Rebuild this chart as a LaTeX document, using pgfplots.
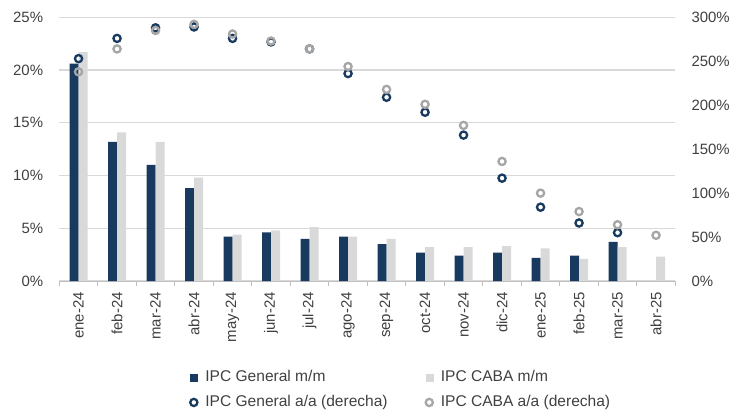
\documentclass[border=0pt]{standalone}
\usepackage{pgfplots}
\pgfplotsset{compat=1.18}
\usepackage{fontspec}
\setmainfont{Liberation Sans}
\definecolor{navy}{HTML}{173A5E}
\definecolor{lgray}{HTML}{D9D9D9}
\definecolor{cgray}{HTML}{A6A6A6}
\definecolor{txt}{HTML}{404040}
\definecolor{gridc}{HTML}{D9D9D9}
\definecolor{axc}{HTML}{BFBFBF}
\begin{document}
\begin{tikzpicture}[font=\fontsize{15}{17}\selectfont, every node/.append style={text=txt}]
\path[use as bounding box] (-59.3bp,-131bp) rectangle (676.7bp,281bp);
\begin{axis}[
  at={(0,0)}, anchor=south west,
  scale only axis, width=616bp, height=263.7bp,
  xmin=-0.5, xmax=15.5, ymin=0, ymax=25,
  axis x line*=bottom, axis y line*=left,
  y axis line style={draw=none},
  x axis line style={axc, line width=1bp},
  xtick={0,...,15},
  xticklabels={ene-24,feb-24,mar-24,abr-24,may-24,jun-24,jul-24,ago-24,sep-24,oct-24,nov-24,dic-24,ene-25,feb-25,mar-25,abr-25},
  minor xtick={-0.5,0.5,...,15.5},
  major tick length=0pt, minor tick length=5bp, tick align=outside,
  minor x tick style={axc, line width=0.8bp},
  xticklabel style={yshift=-11bp, rotate=90, anchor=east, inner sep=0pt},
  ytick={0,5,...,25},
  yticklabel={\pgfmathprintnumber{\tick}\%},
  yticklabel style={anchor=east, inner sep=0pt, xshift=-16bp},
  ymajorgrids, grid style={gridc, line width=1.2bp},
  /pgf/number format/assume math mode=true,
  clip=false,
]
\addplot[ybar, bar width=9bp, bar shift=-4.5bp, fill=navy, draw=none] coordinates {
(0,20.6) (1,13.2) (2,11.0) (3,8.8) (4,4.2) (5,4.6) (6,4.0) (7,4.2) (8,3.5) (9,2.7) (10,2.4) (11,2.7) (12,2.2) (13,2.4) (14,3.7)};
\addplot[ybar, bar width=9bp, bar shift=4.5bp, fill=lgray, draw=none] coordinates {
(0,21.7) (1,14.1) (2,13.2) (3,9.8) (4,4.4) (5,4.8) (6,5.1) (7,4.2) (8,4.0) (9,3.2) (10,3.2) (11,3.3) (12,3.1) (13,2.1) (14,3.2) (15,2.3)};
\end{axis}
\begin{axis}[
  at={(0,0)}, anchor=south west,
  scale only axis, width=616bp, height=263.7bp,
  xmin=-0.5, xmax=15.5, ymin=0, ymax=300,
  hide x axis,
  axis y line*=right,
  y axis line style={draw=none},
  major tick length=0pt,
  ytick={0,50,...,300},
  yticklabel={\pgfmathprintnumber{\tick}\%},
  yticklabel style={anchor=west, inner sep=0pt, xshift=16bp},
  /pgf/number format/assume math mode=true,
  clip=false,
  legend columns=2,
  legend cell align=left,
  legend style={at={(0.2122,-0.3337)}, anchor=north west, draw=none, fill=none, inner sep=0pt,
    font=\fontsize{15.6}{17}\selectfont,
    row sep=7bp, nodes={inner sep=2bp, text height=10.5bp, text depth=3bp},
    /tikz/every odd column/.append style={column sep=6bp},
    /tikz/every even column/.append style={column sep=36bp}},
  legend image code/.code={\draw[mark repeat=2,mark phase=2,#1] plot coordinates {(0bp,0bp) (4bp,0bp) (8bp,0bp)};},
]
\addlegendimage{only marks, mark=square*, mark size=3.5bp, navy, mark options={draw=none, fill=navy}}
\addlegendimage{only marks, mark=square*, mark size=3.5bp, lgray, mark options={draw=none, fill=lgray}}
\addplot[only marks, mark=o, mark size=3.6bp, navy, mark options={line width=2.3bp}] coordinates {
(0,253) (1,276) (2,288) (3,289) (4,276) (5,272) (6,264) (7,236) (8,209) (9,192) (10,166) (11,117) (12,84) (13,66) (14,55)};
\addplot[only marks, mark=o, mark size=3.6bp, cgray, mark options={line width=2.3bp}] coordinates {
(0,238) (1,264) (2,285) (3,292) (4,281) (5,273) (6,264) (7,244) (8,218) (9,201) (10,177) (11,136) (12,100) (13,79) (14,64) (15,52)};
\legend{IPC General m/m, IPC CABA m/m, IPC General a/a (derecha), IPC CABA a/a (derecha)}
\end{axis}
\end{tikzpicture}
\end{document}
